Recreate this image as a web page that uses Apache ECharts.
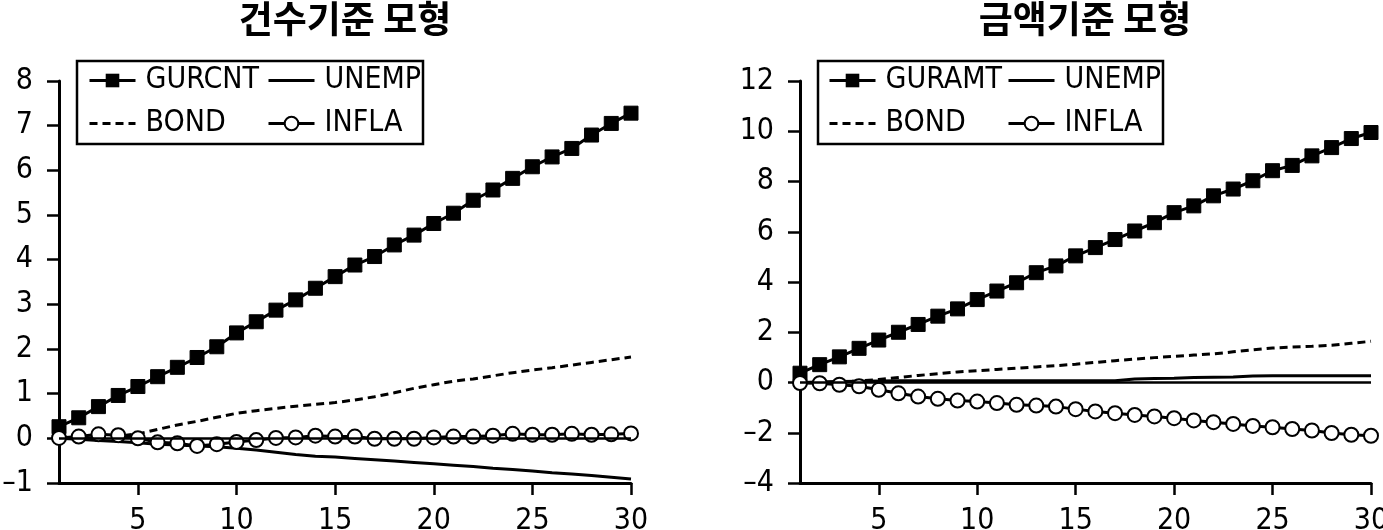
<!DOCTYPE html>
<html>
<head>
<meta charset="utf-8">
<script src="https://cdn.jsdelivr.net/npm/echarts@6/dist/echarts.min.js"></script>
<style>
html,body{margin:0;padding:0;background:#fff;}
#c{width:1383px;height:530px;}
</style>
</head>
<body>
<div id="c"></div>
<script>
// ---- data ----
const steps = [1,2,3,4,5,6,7,8,9,10,11,12,13,14,15,16,17,18,19,20,21,22,23,24,25,26,27,28,29,30];
const xTicks = [5,10,15,20,25,30];

const titleLeft = '건수기준 모형';
const titleRight = '금액기준 모형';

// 건수기준 모형
const cntGURCNT = [0.26,0.46,0.71,0.96,1.16,1.38,1.59,1.81,2.05,2.36,2.61,2.87,3.10,3.36,3.62,3.88,4.07,4.33,4.55,4.81,5.04,5.33,5.56,5.82,6.08,6.30,6.49,6.79,7.05,7.28];
const cntUNEMP  = [0,-0.02,-0.05,-0.07,-0.10,-0.13,-0.15,-0.17,-0.19,-0.22,-0.26,-0.31,-0.36,-0.40,-0.42,-0.45,-0.48,-0.51,-0.54,-0.57,-0.60,-0.63,-0.67,-0.70,-0.73,-0.77,-0.80,-0.83,-0.87,-0.91];
const cntBOND   = [0,0.0,0.02,0.05,0.10,0.20,0.30,0.38,0.47,0.56,0.62,0.67,0.72,0.76,0.80,0.86,0.93,1.02,1.12,1.20,1.28,1.33,1.40,1.47,1.53,1.58,1.64,1.70,1.76,1.82];
const cntINFLA  = [0.01,0.04,0.09,0.07,0.0,-0.09,-0.11,-0.17,-0.13,-0.08,-0.04,0.01,0.02,0.06,0.04,0.04,-0.01,-0.01,-0.01,0.02,0.04,0.04,0.06,0.10,0.08,0.08,0.10,0.08,0.09,0.11];

// 금액기준 모형
const amtGURAMT = [0.37,0.71,1.02,1.36,1.69,2.00,2.31,2.64,2.93,3.30,3.64,3.97,4.37,4.64,5.04,5.37,5.69,6.03,6.36,6.76,7.03,7.43,7.70,8.03,8.43,8.64,9.02,9.35,9.71,9.95];
const amtUNEMP  = [0,0.02,0.04,0.05,0.06,0.07,0.07,0.07,0.07,0.07,0.07,0.07,0.07,0.07,0.07,0.07,0.07,0.14,0.16,0.17,0.20,0.21,0.22,0.26,0.27,0.27,0.27,0.27,0.27,0.27];
const amtBOND   = [0,0.0,0.03,0.06,0.12,0.20,0.28,0.35,0.42,0.47,0.52,0.57,0.62,0.67,0.73,0.80,0.87,0.93,0.99,1.04,1.09,1.14,1.22,1.30,1.37,1.41,1.44,1.48,1.56,1.64];
const amtINFLA  = [-0.02,-0.03,-0.09,-0.15,-0.29,-0.43,-0.56,-0.65,-0.72,-0.76,-0.82,-0.89,-0.92,-0.96,-1.06,-1.15,-1.22,-1.29,-1.35,-1.42,-1.51,-1.58,-1.65,-1.73,-1.78,-1.85,-1.91,-2.01,-2.08,-2.12];

// ---- chart ----
const FONT = "'DejaVu Sans Condensed','Liberation Sans',sans-serif";
const KFONT = "'Noto Sans CJK KR',sans-serif";
const FS = 30;
const pairs = arr => arr.map((v, i) => [steps[i], v]);
const minusFmt = v => String(v).replace('-', '\u2013');

function xAxis(gi) {
  return {
    gridIndex: gi, type: 'value', min: steps[0], max: steps[steps.length - 1],
    axisLine: { show: true, onZero: false, lineStyle: { color: '#000', width: 3 } },
    axisTick: { show: true, customValues: xTicks, length: 12, lineStyle: { color: '#000', width: 2.5 } },
    axisLabel: { show: true, customValues: xTicks, margin: 23, color: '#000', fontFamily: FONT, fontSize: FS },
    splitLine: { show: false }
  };
}
function yAxis(gi, min, max, interval) {
  return {
    gridIndex: gi, type: 'value', min: min, max: max, interval: interval,
    axisLine: { show: true, onZero: false, lineStyle: { color: '#000', width: 3 } },
    axisTick: { show: true, length: 12, lineStyle: { color: '#000', width: 2.5 } },
    axisLabel: { margin: 26, color: '#000', fontFamily: FONT, fontSize: FS, formatter: minusFmt },
    splitLine: { show: false }
  };
}
const zeroLine = {
  silent: true, symbol: 'none', animation: false,
  label: { show: false },
  lineStyle: { color: '#000', width: 2.5, type: 'solid' },
  data: [{ yAxis: 0 }]
};
function mkSeries(name, data, gi, kind, withZero) {
  const s = {
    name: name, type: 'line', xAxisIndex: gi, yAxisIndex: gi, data: pairs(data),
    animation: false, z: 3,
    lineStyle: { color: '#000', width: 3, type: kind === 'dash' ? [8, 5] : 'solid' },
    itemStyle: { color: '#000', borderColor: '#000' }
  };
  if (kind === 'square') {
    s.symbol = 'rect'; s.symbolSize = 14; s.itemStyle = { color: '#000', borderColor: '#000' };
  } else if (kind === 'circle') {
    s.symbol = 'circle'; s.symbolSize = 14; s.z = 4;
    s.itemStyle = { color: '#fff', borderColor: '#000', borderWidth: 2 };
  } else {
    s.symbol = 'none'; s.showSymbol = false;
  }
  if (withZero) s.markLine = zeroLine;
  return s;
}
const noSym = name => ({ name: name, itemStyle: { opacity: 0 } });
function legend(left, names) {
  return {
    orient: 'vertical', left: left, top: 65, padding: 0, itemGap: 12,
    itemWidth: 46, itemHeight: 17, selectedMode: false,
    lineStyle: { width: 3 },
    textStyle: { color: '#000', fontFamily: FONT, fontSize: FS, lineHeight: 31, padding: [0, 0, 0, 5] },
    data: names
  };
}

const chart = echarts.init(document.getElementById('c'), null, { renderer: 'canvas' });
chart.setOption({
  backgroundColor: '#fff',
  animation: false,
  title: [
    { text: titleLeft, left: 345, top: 0, padding: 0, textAlign: 'center',
      textStyle: { fontFamily: KFONT, fontWeight: 'bold', fontSize: 37, color: '#000' } },
    { text: titleRight, left: 1085, top: 0, padding: 0, textAlign: 'center',
      textStyle: { fontFamily: KFONT, fontWeight: 'bold', fontSize: 37, color: '#000' } }
  ],
  grid: [
    { left: 59, top: 81, width: 572, height: 402, outerBoundsMode: 'none', containLabel: false },
    { left: 800, top: 81, width: 571, height: 402, outerBoundsMode: 'none', containLabel: false }
  ],
  xAxis: [xAxis(0), xAxis(1)],
  yAxis: [yAxis(0, -1, 8, 1), yAxis(1, -4, 12, 2)],
  legend: [
    legend(88, ['GURCNT', noSym('BOND')]),
    legend(267, [noSym('UNEMP'), 'INFLA']),
    legend(828, ['GURAMT', noSym('BOND')]),
    legend(1007, [noSym('UNEMP'), 'INFLA'])
  ],
  graphic: [
    { type: 'rect', shape: { x: 77, y: 61, width: 346, height: 83 }, style: { fill: 'none', stroke: '#000', lineWidth: 2.5 }, z: 10 },
    { type: 'rect', shape: { x: 818, y: 61, width: 345, height: 83 }, style: { fill: 'none', stroke: '#000', lineWidth: 2.5 }, z: 10 }
  ],
  series: [
    mkSeries('GURCNT', cntGURCNT, 0, 'square', true),
    mkSeries('UNEMP', cntUNEMP, 0, 'solid'),
    mkSeries('BOND', cntBOND, 0, 'dash'),
    mkSeries('INFLA', cntINFLA, 0, 'circle'),
    mkSeries('GURAMT', amtGURAMT, 1, 'square', true),
    mkSeries('UNEMP', amtUNEMP, 1, 'solid'),
    mkSeries('BOND', amtBOND, 1, 'dash'),
    mkSeries('INFLA', amtINFLA, 1, 'circle')
  ]
});
</script>
</body>
</html>
